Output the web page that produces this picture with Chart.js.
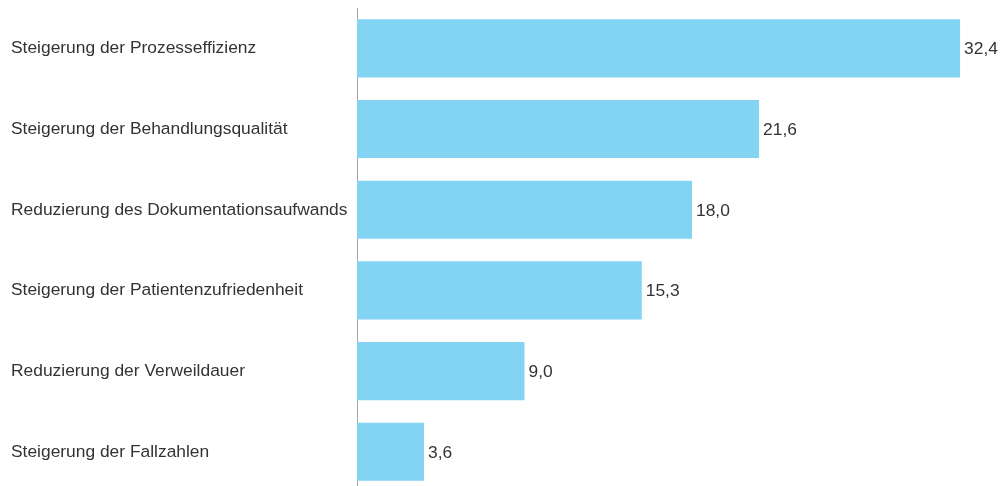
<!DOCTYPE html>
<html>
<head>
<meta charset="utf-8">
<script src="https://cdn.jsdelivr.net/npm/chart.js@4"></script>
<style>
    html, body { margin: 0; padding: 0; background: #fff; }
    #wrap { width: 1001px; height: 486px; overflow: hidden; }
</style>
</head>
<body>
<div id="wrap">
    <canvas id="chart" width="1001" height="493"></canvas>
</div>
<script>
/* ---------------------------
    DATA
------------------------------ */
const categories = [
    "Steigerung der Prozesseffizienz",
    "Steigerung der Behandlungsqualität",
    "Reduzierung des Dokumentationsaufwands",
    "Steigerung der Patientenzufriedenheit",
    "Reduzierung der Verweildauer",
    "Steigerung der Fallzahlen"
];
const values = [32.4, 21.6, 18.0, 15.3, 9.0, 3.6];

const barColor = "#83d4f3";
const textColor = "#333333";
const fontFamily = "'Liberation Sans', Arial, sans-serif";
const fontSize = 17.4;

/* ---------------------------
    VALUE LABELS (bar end)
------------------------------ */
const valueLabels = {
    id: "valueLabels",
    afterDatasetsDraw(chart) {
        const ctx = chart.ctx;
        const meta = chart.getDatasetMeta(0);
        ctx.save();
        ctx.font = fontSize + "px " + fontFamily;
        ctx.fillStyle = textColor;
        ctx.textAlign = "left";
        ctx.textBaseline = "middle";
        meta.data.forEach((bar, i) => {
            const txt = values[i].toFixed(1).replace(".", ",");
            ctx.fillText(txt, bar.x + 4, bar.y + 1);
        });
        ctx.restore();
    }
};

new Chart(document.getElementById("chart"), {
    type: "bar",
    data: {
        labels: categories,
        datasets: [{
            data: values,
            backgroundColor: barColor,
            borderWidth: 0,
            barPercentage: 0.72,
            categoryPercentage: 1
        }]
    },
    options: {
        indexAxis: "y",
        responsive: false,
        animation: false,
        devicePixelRatio: 1,
        layout: { padding: { left: 11, right: 0, top: 8, bottom: 0 } },
        plugins: {
            legend: { display: false },
            tooltip: { enabled: false }
        },
        scales: {
            x: {
                display: false,
                min: 0,
                max: 34.6
            },
            y: {
                grid: { display: false },
                border: { display: true, color: "#a6a6a6", width: 1 },
                ticks: {
                    crossAlign: "far",
                    color: textColor,
                    padding: 0,
                    font: { size: fontSize, family: fontFamily, lineHeight: 0.1 }
                },
                afterFit(scale) {
                    scale.width = 346;
                }
            }
        }
    },
    plugins: [valueLabels]
});
</script>
</body>
</html>
